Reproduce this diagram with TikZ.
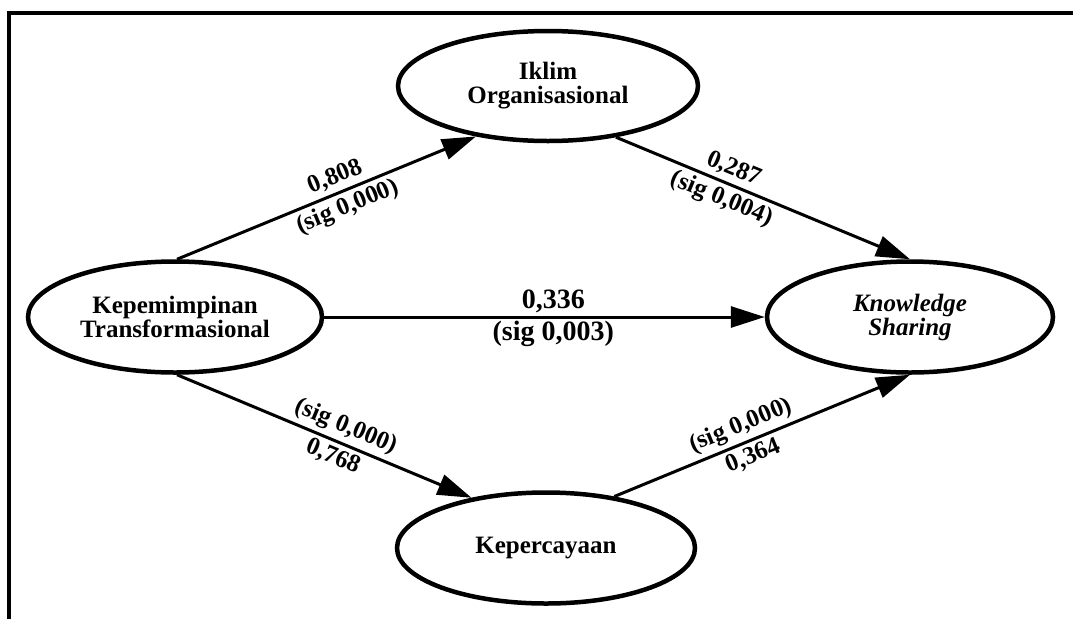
\documentclass[tikz,border=0pt]{standalone}
\usepackage{fontspec}
\setmainfont{Liberation Serif}
\usetikzlibrary{shapes.geometric,arrows.meta}
\begin{document}
\begin{tikzpicture}[x=1pt,y=-1pt,
  latent/.style={ellipse, draw, line width=4.5pt, inner sep=0pt, align=center,
    font=\fontsize{25pt}{24pt}\selectfont\bfseries},
  conn/.style={line width=3pt, -{Triangle[length=34pt,width=21pt]}},
  lbl/.style={font=\fontsize{25pt}{25pt}\selectfont\bfseries, sloped, inner sep=4pt},
  biglbl/.style={lbl, font=\fontsize{28pt}{28pt}\selectfont\bfseries, inner sep=3pt}
]
\useasboundingbox (0,0) rectangle (1073,619);
\draw[line width=4pt] (9,619) -- (9,13) -- (1073,13);

\node[latent, minimum width=294pt, minimum height=111pt] (kt) at (175,317) {Kepemimpinan\\Transformasional};
\node[latent, minimum width=300pt, minimum height=110pt] (io) at (548,86) {Iklim\\Organisasional};
\node[latent, minimum width=286pt, minimum height=111pt,
  font=\fontsize{25pt}{24pt}\selectfont\bfseries\itshape] (ks) at (910,317) {Knowledge\\Sharing};
\node[latent, minimum width=298pt, minimum height=111pt] (kp) at (546,548) {Kepercayaan};

\draw[conn] (kt.88) -- node[lbl, pos=0.55, above] {0,808} node[lbl, pos=0.55, below] {(sig 0,000)} (io.215);
\draw[conn] (io.-37) -- node[lbl, pos=0.38, above] {0,287} node[lbl, pos=0.38, below] {(sig 0,004)} (ks.north);
\draw[conn] (kt.east) -- node[biglbl, pos=0.52, above] {0,336} node[biglbl, pos=0.52, below] {(sig 0,003)} (ks.west);
\draw[conn] (kt.272) -- node[lbl, pos=0.55, above] {(sig 0,000)} node[lbl, pos=0.55, below] {0,768} (kp.146);
\draw[conn] (kp.37) -- node[lbl, pos=0.45, above] {(sig 0,000)} node[lbl, pos=0.45, below] {0,364} (ks.south);
\end{tikzpicture}
\end{document}
